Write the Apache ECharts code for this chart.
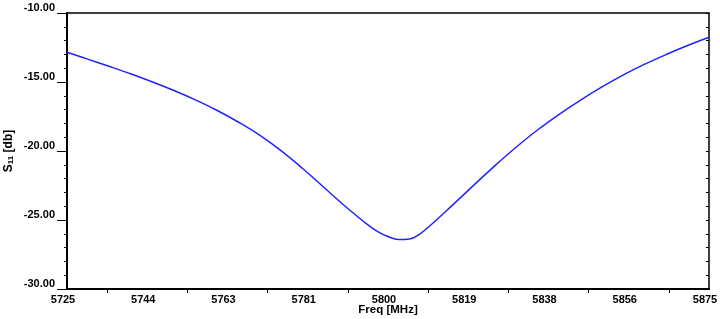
<!DOCTYPE html>
<html>
<head>
<meta charset="utf-8">
<script src="https://cdn.jsdelivr.net/npm/echarts@6/dist/echarts.min.js"></script>
<style>
  html, body { margin: 0; padding: 0; background: #fff; }
  #chart { width: 720px; height: 319px; }
</style>
</head>
<body>
<div id="chart"></div>
<script>
  // frequency sweep (MHz) and return loss (dB)
  var freq = [5725, 5730, 5735, 5740, 5745, 5750, 5755, 5760, 5765, 5770, 5775, 5780, 5785, 5790, 5795, 5797.5, 5800, 5802.5,
    5805, 5807.5, 5810, 5815, 5820, 5825, 5830, 5835, 5840, 5845, 5850, 5855, 5860, 5865, 5870, 5875]
  var s11 = [-12.85, -13.36, -13.88, -14.42, -15.00, -15.62, -16.30, -17.05, -17.90, -18.85, -19.97, -21.25, -22.63, -24.00, -25.28, -25.82, -26.20, -26.42,
    -26.38, -26.00, -25.36, -23.94, -22.49, -21.06, -19.71, -18.46, -17.34, -16.31, -15.36, -14.49, -13.71, -13.01, -12.36, -11.76]

  // x axis tick labels (9 labels across the span) and the small ticks between them
  var xTickValues = [5725, 5743.75, 5762.5, 5781.25, 5800, 5818.75, 5837.5, 5856.25, 5875]
  var xTickLabels = ['5725', '5744', '5763', '5781', '5800', '5819', '5838', '5856', '5875']
  var xSmallTicks = [5734.375, 5753.125, 5771.875, 5790.625, 5809.375, 5828.125, 5846.875, 5865.625]

  var font = "'Liberation Sans', Arial, sans-serif"
  var myChart = echarts.init(document.getElementById('chart'))

  myChart.setOption({
    animation: false,
    grid: {
      left: 67,
      right: 11,
      top: 13,
      bottom: 30,
      outerBoundsMode: 'none'
    },
    xAxis: [{
      type: 'value',
      min: 5725,
      max: 5875,
      name: 'Freq [MHz]',
      nameLocation: 'middle',
      nameGap: 15,
      nameMoveOverlap: false,
      nameTextStyle: { fontFamily: font, fontSize: 11.5, fontWeight: 'bold', color: '#000' },
      splitLine: { show: false },
      axisLine: { onZero: false, lineStyle: { color: '#000', width: 2 } },
      axisTick: {
        customValues: xSmallTicks,
        length: 4,
        lineStyle: { color: '#000', width: 1 }
      },
      axisLabel: {
        customValues: xTickValues,
        margin: 5,
        padding: [0, 8, 0, 0],
        fontFamily: font,
        fontSize: 11,
        fontWeight: 'bold',
        color: '#000',
        formatter: function (v) {
          var i = xTickValues.indexOf(v)
          return i >= 0 ? xTickLabels[i] : ''
        }
      }
    }, {
      type: 'value',
      position: 'top',
      min: 5725,
      max: 5875,
      splitLine: { show: false },
      axisLine: { onZero: false, lineStyle: { color: '#000', width: 1.5 } },
      axisTick: { show: false },
      axisLabel: { show: false }
    }],
    yAxis: [{
      type: 'value',
      min: -30,
      max: -10,
      interval: 5,
      name: '{a|S}{b|11}{a| [db]}',
      nameLocation: 'middle',
      nameGap: 52,
      nameMoveOverlap: false,
      nameTextStyle: {
        fontFamily: font,
        color: '#000',
        rich: {
          a: { fontFamily: font, fontSize: 12, fontWeight: 'bold', color: '#000' },
          b: { fontFamily: font, fontSize: 8, fontWeight: 'bold', color: '#000', verticalAlign: 'bottom', padding: [4, 0, 0, 0] }
        }
      },
      splitLine: { show: false },
      axisLine: { onZero: false, lineStyle: { color: '#000', width: 2 } },
      axisTick: { length: 10, lineStyle: { color: '#000', width: 1 } },
      minorTick: { show: true, splitNumber: 5, length: 3, lineStyle: { color: '#000', width: 1 } },
      axisLabel: {
        margin: 12,
        verticalAlign: 'bottom',
        fontFamily: font,
        fontSize: 11,
        fontWeight: 'bold',
        color: '#000',
        formatter: function (v) { return v.toFixed(2) }
      }
    }, {
      type: 'value',
      position: 'right',
      min: -30,
      max: -10,
      interval: 5,
      splitLine: { show: false },
      axisLine: { onZero: false, lineStyle: { color: '#000', width: 1.5 } },
      axisTick: { inside: true, length: 3, lineStyle: { color: '#000' } },
      minorTick: { show: true, splitNumber: 5, length: 3, lineStyle: { color: '#000' } },
      axisLabel: { show: false }
    }],
    series: [{
      name: 'S11',
      type: 'line',
      showSymbol: false,
      smooth: 0.4,
      data: freq.map(function (f, i) { return [f, s11[i]] }),
      lineStyle: { color: '#2222ff', width: 1.5 }
    }]
  })
</script>
</body>
</html>
